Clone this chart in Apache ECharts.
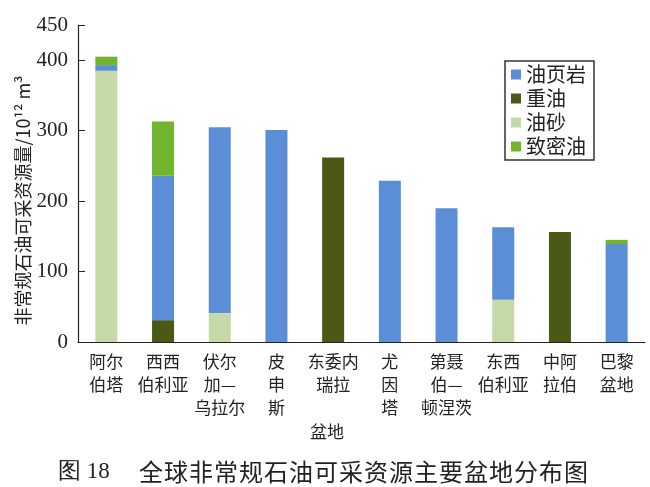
<!DOCTYPE html>
<html>
<head>
<meta charset="utf-8">
<script src="https://cdn.jsdelivr.net/npm/echarts@6/dist/echarts.min.js"></script>
<style>
  html, body { margin: 0; padding: 0; background: #fff; }
  #chart { width: 650px; height: 487px; }
</style>
</head>
<body>
<div id="chart"></div>
<script>
// 盆地
const basins = ['阿尔\n伯塔', '西西\n伯利亚', '伏尔\n加—\n乌拉尔', '皮\n申\n斯', '东委内\n瑞拉',
  '尤\n因\n塔', '第聂\n伯—\n顿涅茨', '东西\n伯利亚', '中阿\n拉伯', '巴黎\n盆地']
// 各类资源量 /10^12 m^3
const shaleOil = [8, 205, 264, 301, 0, 229, 190, 103, 0, 139]
const heavyOil = [0, 31, 0, 0, 262, 0, 0, 0, 156, 0]
const oilSand = [385, 0, 41, 0, 0, 0, 0, 60, 0, 0]
const tightOil = [12, 77, 0, 0, 0, 0, 0, 0, 0, 6]
const yTicks = [0, 100, 200, 300, 400, 450]

const caption = '全球非常规石油可采资源主要盆地分布图'

const colors = {
  '油页岩': '#5b8ed7',
  '重油': '#4a5a16',
  '油砂': '#c5d8a8',
  '致密油': '#70b52c'
}

const myChart = echarts.init(document.getElementById('chart'))

const bar = (name, data) => ({
  name,
  type: 'bar',
  stack: 'total',
  barWidth: 22,
  data,
  itemStyle: { color: colors[name] }
})

// 图题字距较宽，逐字排
const captionChars = caption.split('').map((ch, i) => ({
  type: 'text',
  left: 139 + i * 25,
  top: 460,
  style: { text: ch, fontFamily: 'Noto Sans CJK SC', fontSize: 24, fill: '#222' }
}))

const option = {
  backgroundColor: '#fff',
  animation: false,
  grid: { left: 78, right: 5, top: 25, bottom: 145 },
  legend: {
    data: ['油页岩', '重油', '油砂', '致密油'],
    orient: 'vertical',
    left: 505,
    top: 61,
    padding: [3, 8, 3, 6],
    itemGap: 3,
    itemWidth: 10,
    itemHeight: 10,
    itemTextGap: 6,
    icon: 'rect',
    borderColor: '#333',
    borderWidth: 1.5,
    textStyle: { fontFamily: 'Noto Sans CJK SC', fontSize: 20, lineHeight: 21, color: '#222' }
  },
  xAxis: {
    type: 'category',
    data: basins,
    axisLine: { lineStyle: { color: '#222', width: 1.2 } },
    axisTick: { inside: true, length: 6, lineStyle: { color: '#222' } },
    axisLabel: {
      color: '#222',
      fontFamily: 'Noto Sans CJK SC',
      fontSize: 17,
      lineHeight: 23,
      margin: 8,
      interval: 0
    }
  },
  yAxis: {
    type: 'value',
    min: 0,
    max: 450,
    interval: 50,
    name: '非常规石油可采资源量/10¹² m³',
    nameLocation: 'middle',
    nameGap: 46,
    nameMoveOverlap: false,
    nameTextStyle: {
      fontFamily: 'Noto Sans CJK SC', fontSize: 18, color: '#222',
      padding: [0, 34, 0, 0]
    },
    axisLine: { show: true, lineStyle: { color: '#222', width: 1.2 } },
    axisTick: {
      show: true, inside: true, length: 7, lineStyle: { color: '#222' },
      customValues: yTicks
    },
    axisLabel: {
      color: '#222',
      fontFamily: 'Liberation Serif',
      fontSize: 21,
      margin: 10,
      customValues: yTicks
    },
    splitLine: { show: false }
  },
  graphic: [
    {
      type: 'text',
      left: 310,
      top: 423,
      style: { text: '盆地', fontFamily: 'Noto Sans CJK SC', fontSize: 17, fill: '#222' }
    },
    {
      type: 'text',
      left: 58,
      top: 460,
      style: { text: '图 18', fontFamily: 'Liberation Serif', fontSize: 23, fill: '#222' }
    }
  ].concat(captionChars),
  series: [
    bar('重油', heavyOil),
    bar('油砂', oilSand),
    bar('油页岩', shaleOil),
    bar('致密油', tightOil)
  ]
}

myChart.setOption(option)
window.addEventListener('resize', () => myChart.resize())
</script>
</body>
</html>
